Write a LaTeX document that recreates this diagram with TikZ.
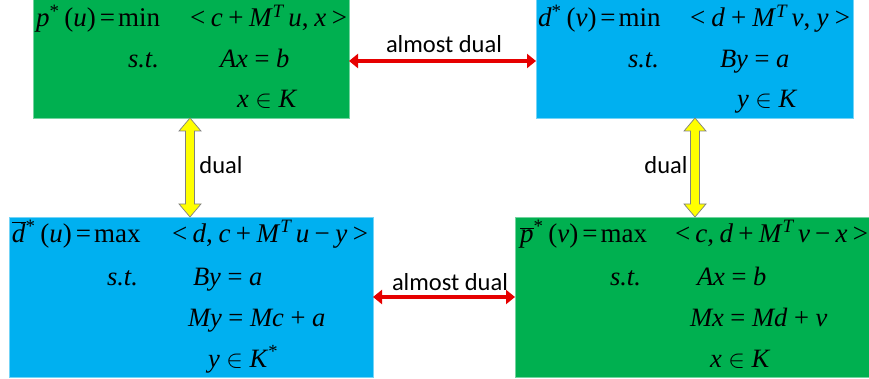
\documentclass[tikz,border=0pt]{standalone}
\usepackage{fontspec}
\setmainfont{Liberation Serif}
\newfontfamily\lblfont{Carlito}
\usetikzlibrary{arrows.meta}
\definecolor{pgreen}{HTML}{00B050}
\definecolor{pblue}{HTML}{00B0F0}
\definecolor{pred}{HTML}{E60000}
\definecolor{pyellow}{HTML}{FFFF00}
\newcommand\fitto[2]{\makebox[#1pt][s]{#2}}
\newcommand\rowA{\fontsize{27}{29}\selectfont}
\newcommand\rowB{\fontsize{26.5}{29}\selectfont}
\newcommand\iv[1]{\textit{#1}}
\newcommand\up[1]{\textsuperscript{#1}}
\newcommand\barred[1]{$\overline{\hbox{\itshape #1}}$}
\newcommand\lhs[3]{#1\up{*}\hspace{5pt}(\iv{#2})\hspace{4pt}=\hspace{3pt}#3}
\tikzset{
  gbox/.style={fill=pgreen, draw=pgreen!55!white, line width=0.8pt, inner sep=0pt, outer sep=0pt, anchor=north west},
  bbox/.style={fill=pblue, draw=pblue!55!white, line width=0.8pt, inner sep=0pt, outer sep=0pt, anchor=north west},
  eqA/.style={anchor=base west, inner sep=0pt, outer sep=0pt, font=\rowA},
  eqB/.style={anchor=base west, inner sep=0pt, outer sep=0pt, font=\rowB},
  lbl/.style={font=\lblfont\fontsize{24.5}{26}\selectfont, inner sep=0pt},
  redarr/.style={draw=pred, line width=3.6pt, {Triangle[length=9pt,width=14pt]}-{Triangle[length=9pt,width=14pt]}},
  yarr/.style={fill=pyellow, draw=gray, line width=0.7pt, line join=miter}
}
\begin{document}
\begin{tikzpicture}[x=1pt,y=-1pt]
\useasboundingbox (0,0) rectangle (869,379);
% boxes
\node[gbox, minimum width=316pt, minimum height=119pt] (b1) at (33,-1) {};
\node[bbox, minimum width=317pt, minimum height=119pt] (b2) at (536,-1) {};
\node[bbox, minimum width=364pt, minimum height=160pt] (b3) at (9,217) {};
\node[gbox, minimum width=354pt, minimum height=160pt] (b4) at (515,217) {};

% top-left
\node[eqA] (t1a) at (36,27) {\lhs{\iv{p}}{u}{min}};
\node[eqA] (t1b) at (190,27) {\fitto{157}{< \iv{c} + \iv{M}\up{\itshape T}\,\iv{u}, \iv{x} >}};
\node[eqB] (t1c) at (128,68) {\iv{s.t.}};
\node[eqB] (t1d) at (220,68) {\iv{Ax} = \iv{b}};
\node[eqB] (t1e) at (237,108) {\iv{x} $\in$ \iv{K}};

% top-right
\node[eqA] (t2a) at (538,27) {\lhs{\iv{d}}{v}{min}};
\node[eqA] (t2b) at (690,27) {\fitto{160}{< \iv{d} + \iv{M}\up{\itshape T}\,\iv{v}, \iv{y} >}};
\node[eqB] (t2c) at (628,68) {\iv{s.t.}};
\node[eqB] (t2d) at (720,68) {\iv{By} = \iv{a}};
\node[eqB] (t2e) at (737,108) {\iv{y} $\in$ \iv{K}};

% bottom-left
\node[eqA] (t3a) at (12,242) {\lhs{\barred{d}}{u}{max}};
\node[eqA] (t3b) at (172,242) {\fitto{196}{< \iv{d}, \iv{c} + \iv{M}\up{\itshape T}\,\iv{u} − \iv{y} >}};
\node[eqB] (t3c) at (107,285) {\iv{s.t.}};
\node[eqB] (t3d) at (193,285) {\iv{By} = \iv{a}};
\node[eqB] (t3e) at (188,326) {\iv{My} = \iv{Mc} + \iv{a}};
\node[eqB] (t3f) at (208,367) {\iv{y} $\in$ \iv{K}\up{*}};

% bottom-right
\node[eqA] (t4a) at (520,242) {\lhs{\barred{p}}{v}{max}};
\node[eqA] (t4b) at (675,242) {\fitto{193}{< \iv{c}, \iv{d} + \iv{M}\up{\itshape T}\,\iv{v} − \iv{x} >}};
\node[eqB] (t4c) at (610,285) {\iv{s.t.}};
\node[eqB] (t4d) at (697,285) {\iv{Ax} = \iv{b}};
\node[eqB] (t4e) at (690,326) {\iv{Mx} = \iv{Md} + \iv{v}};
\node[eqB] (t4f) at (710,367) {\iv{x} $\in$ \iv{K}};

% red arrows
\draw[redarr] ([yshift=-2.5pt]b1.east) -- ([yshift=-2.5pt]b2.west);
\draw[redarr] (b3.east) -- (b4.west);
\node[lbl] (l1) at (444,44) {almost dual};
\node[lbl] (l2) at (450,282) {almost dual};

% yellow double arrows
\coordinate (yl) at (190,118);
\coordinate (yr) at (695,118);
\foreach \c in {yl,yr}{
  \draw[yarr] (\c) -- ++(11,13) -- ++(-6.5,0) -- ++(0,73) -- ++(6.5,0) -- ++(-11,13)
    -- ++(-11,-13) -- ++(6.5,0) -- ++(0,-73) -- ++(-6.5,0) -- cycle;
}
\node[lbl] (l3) at (221,165.5) {dual};
\node[lbl] (l4) at (666,165.5) {dual};
\end{tikzpicture}
\end{document}
